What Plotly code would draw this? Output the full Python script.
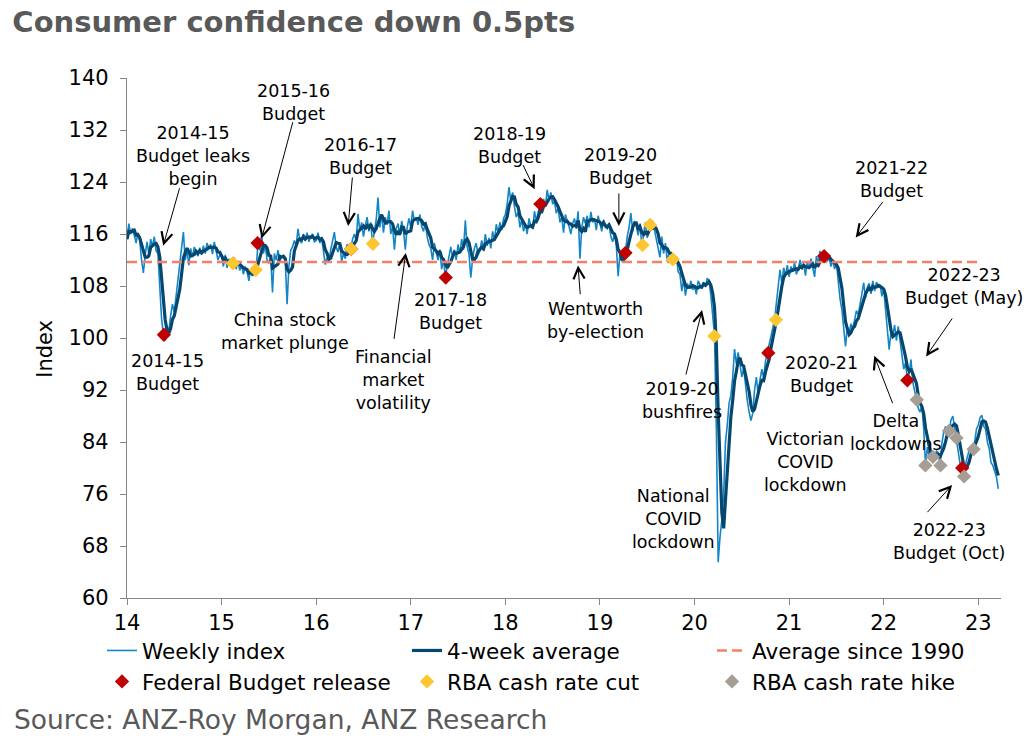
import pandas as pd
import plotly.graph_objects as go

# weekly index, one list per year (x = year + week/52), axis shows years as 14..23
weekly_2014 = [115.2, 117.6, 116.0, 116.9, 115.8, 114.6, 116.2, 115.0, 112.0, 110.0,
               112.8, 114.8, 113.0, 115.2, 114.0, 115.6, 113.4, 113.0, 108.0, 103.0,
               100.5, 99.6, 101.8, 101.0, 103.5, 105.2, 104.0, 106.5, 108.5, 110.8,
               113.5, 116.3, 112.0, 113.5, 111.2, 113.8, 112.4, 114.0, 113.2, 112.6,
               113.9, 112.8, 114.2, 113.0, 114.6, 113.8, 114.4, 112.9, 114.8, 113.2,
               112.0, 112.8]
weekly_2015 = [112.6, 111.0, 112.8, 110.8, 112.2, 111.2, 111.6, 112.4, 110.6, 111.8,
               110.4, 111.2, 109.8, 111.0, 110.2, 108.8, 110.6, 109.6, 111.0, 110.5,
               114.6, 113.5, 116.0, 113.0, 114.4, 112.0, 111.5, 112.5, 107.0, 113.0,
               112.0, 113.5, 111.8, 112.5, 112.5, 112.0, 105.2, 111.0, 113.5, 114.0,
               115.0, 114.2, 116.8, 115.0, 114.6, 116.0, 115.2, 116.2, 114.8, 115.6,
               116.0, 114.8]
weekly_2016 = [115.0, 116.2, 114.6, 115.4, 113.0, 111.3, 112.4, 111.8, 113.6, 114.8,
               116.3, 114.0, 113.2, 114.6, 111.8, 113.0, 112.2, 114.4, 113.0, 113.7,
               115.2, 116.0, 115.0, 119.1, 116.5, 117.8, 115.6, 117.2, 118.6, 116.4,
               117.8, 114.5, 116.8, 118.2, 121.6, 117.0, 119.0, 116.2, 118.6, 117.4,
               119.6, 116.0, 117.2, 113.6, 116.8, 117.6, 115.8, 118.0, 116.6, 113.6,
               117.0, 118.4]
weekly_2017 = [117.0, 119.6, 118.0, 118.6, 117.4, 119.0, 117.2, 116.4, 117.8, 115.6,
               114.4, 113.8, 112.0, 114.6, 113.2, 112.0, 113.6, 110.6, 112.2, 109.3,
               111.0, 112.6, 114.0, 112.4, 113.6, 112.0, 114.4, 113.0, 115.2, 113.6,
               118.1, 114.0, 113.0, 109.3, 112.2, 113.8, 114.6, 112.8, 113.4, 115.0,
               113.6, 116.0, 114.2, 115.4, 113.8, 116.4, 115.0, 117.5, 116.2, 117.8,
               116.6, 118.4]
weekly_2018 = [119.0, 120.6, 123.2, 121.0, 122.4, 120.2, 118.6, 119.4, 117.0, 118.2,
               116.4, 117.6, 116.0, 118.4, 117.2, 116.8, 119.5, 118.0, 119.6, 120.6,
               119.4, 121.4, 120.2, 122.8, 121.2, 122.4, 120.6, 121.0, 119.2, 120.0,
               117.8, 118.6, 116.2, 119.0, 118.0, 117.2, 116.0, 117.6, 118.4, 116.8,
               119.5, 112.2, 117.0, 118.6, 117.6, 118.8, 117.0, 119.4, 117.8, 118.4,
               116.6, 118.8]
weekly_2019 = [117.6, 116.4, 118.2, 117.0, 116.8, 117.6, 115.6, 114.8, 116.0, 114.2,
               109.5, 113.0, 111.8, 113.6, 113.1, 115.6, 117.0, 119.2, 116.4, 118.0,
               117.2, 115.8, 117.6, 114.3, 116.0, 117.8, 115.4, 116.6, 117.4, 118.0,
               116.6, 115.2, 114.2, 112.4, 115.6, 113.0, 114.6, 111.8, 113.2, 112.6,
               112.1, 111.4, 112.6, 110.2, 109.8, 107.2, 109.0, 106.5, 108.4, 107.6,
               108.8, 107.4]
weekly_2020 = [108.0, 106.7, 108.8, 108.2, 107.6, 108.6, 108.0, 109.2, 108.8, 106.5,
               103.0, 100.3, 86.0, 65.5, 69.4, 72.0, 76.0, 83.9, 86.6, 90.0,
               91.2, 94.0, 98.3, 96.0, 97.8, 95.6, 94.0, 95.4, 92.6, 90.4,
               88.6, 87.3, 88.4, 92.0, 94.0, 91.2, 93.6, 95.2, 93.8, 96.4,
               97.7, 99.0, 100.6, 101.8, 102.8, 105.4, 107.6, 110.5, 108.4, 110.8,
               109.6, 111.2]
weekly_2021 = [109.4, 111.0, 110.2, 111.6, 109.8, 110.6, 112.0, 110.8, 111.4, 109.6,
               111.8, 110.6, 112.2, 111.0, 109.4, 112.6, 111.6, 113.4, 112.2, 112.6,
               113.2, 111.8, 112.4, 111.0, 112.0, 110.6, 111.6, 108.8, 106.0, 104.4,
               101.0, 98.7, 101.6, 100.8, 102.2, 101.4, 102.8, 104.2, 103.6, 105.6,
               106.8, 108.5, 106.2, 107.8, 108.4, 106.8, 108.8, 107.2, 108.6, 107.8,
               108.2, 106.4]
weekly_2022 = [107.6, 104.4, 101.2, 98.2, 101.0, 100.4, 102.0, 99.6, 101.8, 99.8,
               97.2, 95.2, 96.2, 93.5, 94.6, 96.7, 93.2, 91.8, 90.4, 89.2,
               88.6, 89.6, 86.0, 80.4, 83.2, 81.8, 82.7, 81.7, 81.6, 82.6,
               82.4, 80.4, 83.8, 85.6, 86.4, 85.2, 85.7, 87.4, 88.0, 86.0,
               84.6, 82.0, 80.6, 80.0, 78.7, 80.6, 81.8, 82.8, 83.4, 82.9,
               84.0, 86.0]
weekly_2023 = [86.6, 87.8, 88.1, 86.4, 86.0, 84.0, 83.0, 80.8, 80.4, 79.6, 78.6, 76.8]

avg_since_1990 = 111.7
avg_end = 23.0

budget_dates = [14.39, 15.38, 16.37, 17.37, 18.37, 19.27, 20.78, 21.37, 22.25, 22.83]
budget_vals = [100.5, 114.6, 113.7, 109.3, 120.6, 113.1, 97.7, 112.6, 93.5, 80.0]
cut_dates = [15.12, 15.36, 16.37, 16.6, 19.45, 19.53, 19.77, 20.21, 20.86]
cut_vals = [111.5, 110.5, 113.7, 114.5, 114.3, 117.4, 112.1, 100.3, 102.8]
hike_dates = [22.35, 22.44, 22.52, 22.6, 22.69, 22.77, 22.85, 22.95]
hike_vals = [90.5, 80.4, 81.7, 80.4, 85.7, 84.6, 78.7, 82.9]

years = {14: weekly_2014, 15: weekly_2015, 16: weekly_2016, 17: weekly_2017, 18: weekly_2018,
         19: weekly_2019, 20: weekly_2020, 21: weekly_2021, 22: weekly_2022, 23: weekly_2023}

x, weekly = [], []
for yr, vals in years.items():
    x += [yr + i / 52 for i in range(len(vals))]
    weekly += vals
avg4 = pd.Series(weekly).rolling(4, min_periods=1).mean()

FONT = "DejaVu Sans"

fig = go.Figure()
fig.add_trace(go.Scatter(x=x, y=weekly, mode="lines", name="Weekly index",
                         line=dict(color="#1386c8", width=1.6)))
fig.add_trace(go.Scatter(x=x, y=avg4, mode="lines", name="4-week average",
                         line=dict(color="#06476f", width=3.2)))
fig.add_trace(go.Scatter(x=[x[0], avg_end], y=[avg_since_1990, avg_since_1990], mode="lines",
                         name="Average since 1990",
                         line=dict(color="#f57f68", width=2.5, dash="10px,5px")))
fig.add_trace(go.Scatter(x=budget_dates, y=budget_vals, mode="markers", name="Federal Budget release",
                         marker=dict(symbol="diamond", size=11, color="#c00000")))
fig.add_trace(go.Scatter(x=cut_dates, y=cut_vals, mode="markers", name="RBA cash rate cut",
                         marker=dict(symbol="diamond", size=11, color="#fdc52f")))
fig.add_trace(go.Scatter(x=hike_dates, y=hike_vals, mode="markers", name="RBA cash rate hike",
                         marker=dict(symbol="diamond", size=11, color="#a69e94")))

# event labels: text, centre, optional arrow (tail x, tail y, tip x, tip y)
notes = [
    ("2014-15<br>Budget leaks<br>begin", 14.694, 128.06, (14.56, 123.26, 14.383, 114.2)),
    ("2015-16<br>Budget", 15.764, 136.18, (15.757, 133.43, 15.423, 115.29)),
    ("2014-15<br>Budget", 14.426, 94.7, None),
    ("China stock<br>market plunge", 15.669, 101.0, None),
    ("2016-17<br>Budget", 16.472, 128.0, (16.384, 124.92, 16.338, 117.23)),
    ("Financial<br>market<br>volatility", 16.821, 93.6, (16.821, 99.63, 16.947, 113.09)),
    ("2017-18<br>Budget", 17.423, 104.15, None),
    ("2018-19<br>Budget", 18.041, 129.58, (18.18, 126.83, 18.31, 122.88)),
    ("2019-20<br>Budget", 19.219, 126.46, (19.2, 122.46, 19.2, 117.23)),
    ("Wentworth<br>by-election", 18.955, 102.77, (18.793, 106.51, 18.768, 111.17)),
    ("2019-20<br>bushfires", 19.863, 90.31, (19.905, 94.15, 20.08, 104.31)),
    ("National<br>COVID<br>lockdown", 19.78, 72.08, None),
    ("Victorian<br>COVID<br>lockdown", 21.17, 80.95, None),
    ("2020-21<br>Budget", 21.34, 94.42, None),
    ("2021-22<br>Budget", 22.083, 124.37, (22.003, 121.17, 21.704, 115.46)),
    ("Delta<br>lockdowns", 22.125, 85.43, (22.10, 89.75, 21.90, 97.28)),
    ("2022-23<br>Budget (May)", 22.853, 107.94, (22.735, 103.23, 22.448, 97.17)),
    ("2022-23<br>Budget (Oct)", 22.69, 68.71, (22.448, 72.98, 22.723, 77.38)),
]
for text, tx, ty, arrow in notes:
    fig.add_annotation(x=tx, y=ty, text=text, showarrow=False,
                       font=dict(family=FONT, size=17.5, color="black"))
    if arrow:
        ax, ay, hx, hy = arrow
        fig.add_annotation(x=hx, y=hy, ax=ax, ay=ay, axref="x", ayref="y", text="",
                           showarrow=True, arrowhead=5, arrowsize=2.2, arrowwidth=1,
                           arrowcolor="black", standoff=0, startstandoff=0)

fig.add_annotation(xref="paper", yref="paper", x=-0.094, y=0.479, xanchor="center",
                   yanchor="middle", text="Index", textangle=-90, showarrow=False,
                   font=dict(family=FONT, size=21, color="black"))
fig.add_annotation(xref="paper", yref="paper", x=-0.1316, y=-0.2346, xanchor="left",
                   yanchor="middle", text="Source: ANZ-Roy Morgan, ANZ Research", showarrow=False,
                   font=dict(family=FONT, size=26.5, color="#595959"))

fig.update_layout(
    width=1030, height=744,
    margin=dict(l=127, r=29, t=78, b=146),
    plot_bgcolor="white", paper_bgcolor="white",
    title=dict(text="<b>Consumer confidence down 0.5pts</b>", xref="container", x=0.012,
               xanchor="left", yref="container", y=0.970, yanchor="middle",
               font=dict(family=FONT, size=29, color="#595959")),
    legend=dict(orientation="h", x=-0.0286, y=-0.0615, xanchor="left", yanchor="top",
                entrywidth=260, entrywidthmode="pixels", tracegroupgap=0, itemwidth=30,
                font=dict(family=FONT, size=21.5, color="black")),
    showlegend=True,
)
fig.update_xaxes(range=[14, 23.24], tick0=14, dtick=1, ticks="outside", ticklen=6,
                 tickcolor="#868686", showline=True, linecolor="#868686", linewidth=1.3,
                 showgrid=False, zeroline=False, tickfont=dict(family=FONT, size=21, color="black"))
fig.update_yaxes(range=[60, 140], tick0=60, dtick=8, ticks="outside", ticklen=6,
                 ticklabelstandoff=7,
                 tickcolor="#868686", showline=True, linecolor="#868686", linewidth=1.3,
                 showgrid=False, zeroline=False, tickfont=dict(family=FONT, size=21, color="black"))

fig.write_html("out.html", config={"displayModeBar": False},
               post_script="document.body.style.margin='0';")
